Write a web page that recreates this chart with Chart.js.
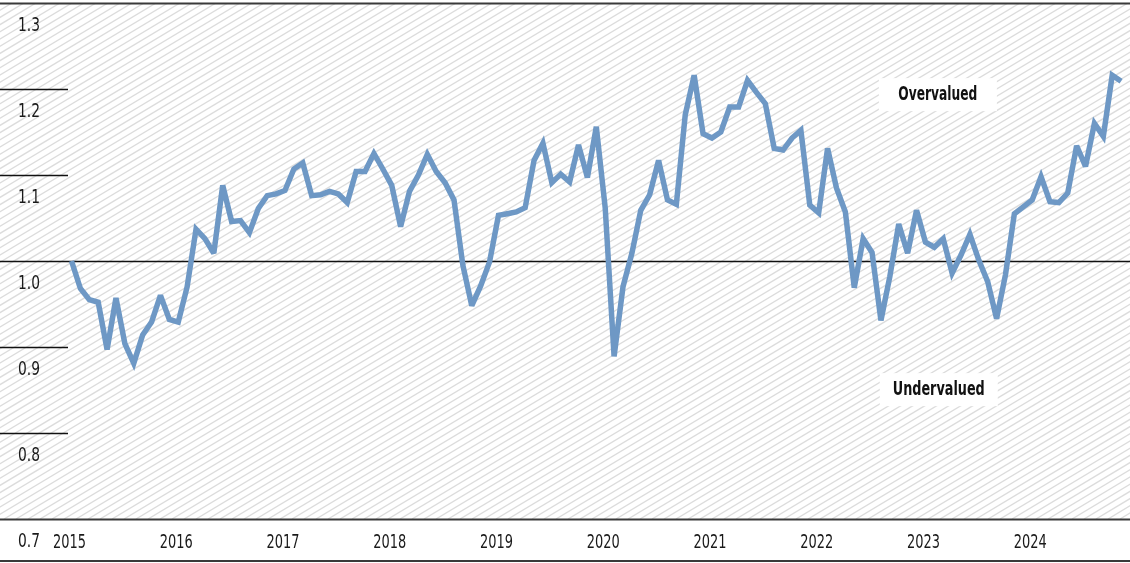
<!DOCTYPE html>
<html>
<head>
<meta charset="utf-8">
<script src="https://cdn.jsdelivr.net/npm/chart.js@4.4.1/dist/chart.umd.min.js"></script>
<style>
  html, body { margin: 0; padding: 0; background: #fff; }
  #wrap { width: 1130px; height: 563px; }
</style>
</head>
<body>
<div id="wrap"><canvas id="chart" width="1130" height="563"></canvas></div>
<script>
// monthly valuation ratio, Jan 2015 .. Nov 2024
const yearLabels = ["2015", "2016", "2017", "2018", "2019", "2020", "2021", "2022", "2023", "2024"];
const yTicks = [0.7, 0.8, 0.9, 1.0, 1.1, 1.2, 1.3];
const valuation = [
  1.000, 0.968, 0.955, 0.952, 0.897, 0.957, 0.904, 0.881, 0.914, 0.929, 0.960, 0.932,
  0.929, 0.970, 1.037, 1.026, 1.009, 1.088, 1.046, 1.047, 1.033, 1.061, 1.076, 1.078,
  1.082, 1.107, 1.114, 1.076, 1.077, 1.081, 1.078, 1.068, 1.104, 1.104, 1.125, 1.107,
  1.088, 1.040, 1.081, 1.100, 1.124, 1.104, 1.091, 1.071, 0.995, 0.948, 0.971, 0.999,
  1.053, 1.055, 1.057, 1.062, 1.117, 1.137, 1.091, 1.101, 1.092, 1.135, 1.097, 1.156,
  1.062, 0.889, 0.970, 1.009, 1.059, 1.077, 1.117, 1.071, 1.066, 1.170, 1.216, 1.148,
  1.143, 1.150, 1.179, 1.179, 1.210, 1.196, 1.183, 1.131, 1.129, 1.143, 1.152, 1.065,
  1.056, 1.131, 1.085, 1.057, 0.969, 1.026, 1.010, 0.931, 0.982, 1.043, 1.009, 1.059,
  1.022, 1.016, 1.026, 0.986, 1.007, 1.031, 1.001, 0.976, 0.933, 0.984, 1.055, 1.063,
  1.071, 1.098, 1.069, 1.068, 1.079, 1.134, 1.110, 1.160, 1.145, 1.216, 1.209
];
const zoneLabels = [
  { text: "Overvalued", value: 1.194, month: 97.4 },
  { text: "Undervalued", value: 0.851, month: 97.5 }
];

const FONT = "'DejaVu Sans Condensed', 'Liberation Sans Narrow', sans-serif";

// draw text squeezed horizontally to look like a condensed face
function drawText(ctx, text, x, y, align, size, weight, width) {
  ctx.save();
  ctx.font = `${weight} ${size}px ${FONT}`;
  ctx.textBaseline = "middle";
  ctx.textAlign = "left";
  const w = ctx.measureText(text).width;
  const sx = width / w;
  let left = x;
  if (align === "center") left = x - width / 2;
  if (align === "right") left = x - width;
  ctx.translate(left, y);
  ctx.scale(sx, 1);
  ctx.fillText(text, 0, 0);
  ctx.restore();
}

const backdrop = {
  id: "backdrop",
  beforeDraw(chart) {
    const { ctx, scales } = chart;
    const top = scales.y.getPixelForValue(1.3);
    const bottom = scales.y.getPixelForValue(0.7);
    ctx.save();
    ctx.fillStyle = "#fff";
    ctx.fillRect(0, 0, chart.width, chart.height);
    ctx.beginPath();
    ctx.rect(0, top, chart.width, bottom - top);
    ctx.clip();
    ctx.strokeStyle = "#dcdcdc";
    ctx.lineWidth = 1.4;
    const h = bottom - top;
    const run = h / 0.6;
    for (let x = -run; x < chart.width + 10; x += 12) {
      ctx.beginPath();
      ctx.moveTo(x, bottom);
      ctx.lineTo(x + run, top);
      ctx.stroke();
    }
    ctx.restore();
  },
  beforeDatasetsDraw(chart) {
    const { ctx, scales } = chart;
    ctx.save();
    for (const v of yTicks) {
      const y = Math.round(scales.y.getPixelForValue(v)) + 0.5;
      ctx.beginPath();
      if (v === 1.3 || v === 0.7) {
        ctx.strokeStyle = "#3a3a3a";
        ctx.lineWidth = 2;
        ctx.moveTo(0, y);
        ctx.lineTo(chart.width, y);
      } else if (v === 1.0) {
        ctx.strokeStyle = "#111";
        ctx.lineWidth = 1.5;
        ctx.moveTo(0, y);
        ctx.lineTo(chart.width, y);
      } else {
        ctx.strokeStyle = "#111";
        ctx.lineWidth = 1.3;
        ctx.moveTo(0, y);
        ctx.lineTo(68, y);
      }
      ctx.stroke();
      ctx.fillStyle = "#1a1a1a";
      drawText(ctx, v.toFixed(1), 40, y + 22, "right", 20, "normal", 22);
    }
    // bottom rule under the year labels
    ctx.strokeStyle = "#3a3a3a";
    ctx.lineWidth = 2;
    ctx.beginPath();
    ctx.moveTo(0, chart.height - 2);
    ctx.lineTo(chart.width, chart.height - 2);
    ctx.stroke();

    // year labels
    const yLab = scales.y.getPixelForValue(0.7) + 24;
    yearLabels.forEach((t, k) => {
      const x = scales.x.getPixelForValue(k * 12) - 2;
      ctx.fillStyle = "#1a1a1a";
      drawText(ctx, t, x, yLab, "center", 20, "normal", 33);
    });

    // zone labels
    for (const z of zoneLabels) {
      const x = scales.x.getPixelForValue(z.month);
      const y = scales.y.getPixelForValue(z.value);
      const tw = z.text === "Overvalued" ? 79 : 92;
      ctx.fillStyle = "#fff";
      ctx.fillRect(x - 59, y - 16, 118, 33);
      ctx.fillStyle = "#111";
      drawText(ctx, z.text, x, y + 1, "center", 19, "bold", tw);
    }
    ctx.restore();
    ctx.miterLimit = 3;
  }
};

new Chart(document.getElementById("chart"), {
  type: "line",
  data: {
    datasets: [
      {
        data: valuation.map((v, i) => ({ x: i, y: v })),
        borderColor: "#6e98c5",
        borderWidth: 5.5,
        borderJoinStyle: "miter",
        borderCapStyle: "butt",
        pointRadius: 0,
        tension: 0,
        fill: false,
        clip: false,
      },
    ],
  },
  options: {
    responsive: false,
    animation: false,
    devicePixelRatio: 1,
    layout: { padding: { top: 3, right: 0, left: 0, bottom: 0 } },
    plugins: {
      legend: { display: false },
      tooltip: { enabled: false },
    },
    scales: {
      x: {
        type: "linear",
        min: 0,
        max: 119,
        afterFit: (scale) => { scale.height = 44; },
        grid: { display: false, drawTicks: false },
        border: { display: false },
        ticks: { display: false },
      },
      y: {
        min: 0.7,
        max: 1.3,
        afterFit: (scale) => { scale.width = 71.5; },
        grid: { display: false, drawTicks: false },
        border: { display: false },
        ticks: { display: false },
      },
    },
  },
  plugins: [backdrop],
});
</script>
</body>
</html>
